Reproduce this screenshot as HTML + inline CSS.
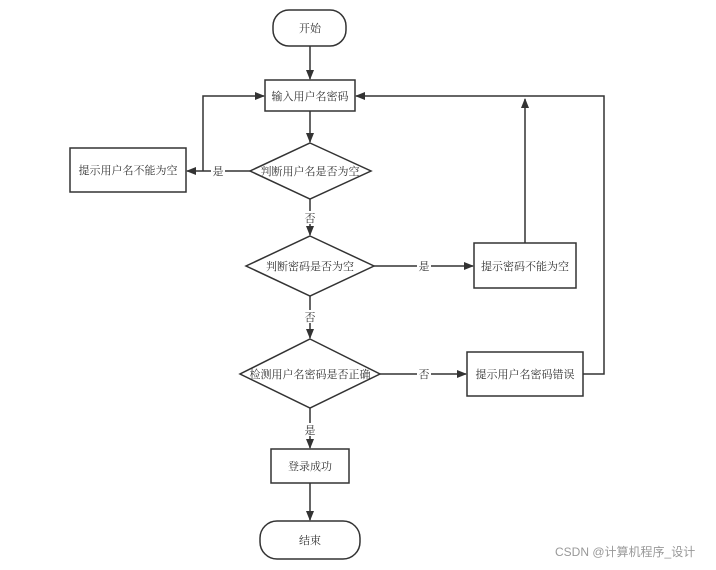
<!DOCTYPE html>
<html><head><meta charset="utf-8"><style>
body{margin:0;background:#fff;width:716px;height:565px;overflow:hidden}
text{font-family:"Liberation Serif","Noto Serif CJK SC","Noto Sans CJK SC",serif;font-size:11px;fill:#333}
</style></head><body>
<svg width="716" height="565" viewBox="0 0 716 565">
<defs><marker id="a" markerWidth="10" markerHeight="8" refX="9" refY="4" orient="auto" markerUnits="userSpaceOnUse"><path d="M0,0L10,4L0,8z" fill="#333"/></marker></defs>
<g stroke="#333" stroke-width="1.5" fill="#fff">
<rect x="273" y="10" width="73" height="36" rx="16"/>
<rect x="265" y="80" width="90" height="31"/>
<polygon points="310,143 371,171 310,199 250,171"/>
<rect x="70" y="148" width="116" height="44"/>
<polygon points="310,236 374,266 310,296 246,266"/>
<rect x="474" y="243" width="102" height="45"/>
<polygon points="310,339 380,374 310,408 240,374"/>
<rect x="467" y="352" width="116" height="44"/>
<rect x="271" y="449" width="78" height="34"/>
<rect x="260" y="521" width="100" height="38" rx="17"/>
</g>
<g stroke="#333" stroke-width="1.5" fill="none">
<line x1="310" y1="46" x2="310" y2="79" marker-end="url(#a)"/>
<line x1="310" y1="111" x2="310" y2="142" marker-end="url(#a)"/>
<line x1="250" y1="171" x2="187" y2="171" marker-end="url(#a)"/>
<polyline points="203,171 203,96 264,96" marker-end="url(#a)"/>
<line x1="310" y1="199" x2="310" y2="235" marker-end="url(#a)"/>
<line x1="374" y1="266" x2="473" y2="266" marker-end="url(#a)"/>
<line x1="525" y1="243" x2="525" y2="99" marker-end="url(#a)"/>
<polyline points="583,374 604,374 604,96 356,96" marker-end="url(#a)"/>
<line x1="310" y1="296" x2="310" y2="338" marker-end="url(#a)"/>
<line x1="380" y1="374" x2="466" y2="374" marker-end="url(#a)"/>
<line x1="310" y1="408" x2="310" y2="448" marker-end="url(#a)"/>
<line x1="310" y1="483" x2="310" y2="520" marker-end="url(#a)"/>
</g>
<g text-anchor="middle">
<text x="310" y="32">开始</text>
<text x="310" y="100">输入用户名密码</text>
<text x="310" y="175">判断用户名是否为空</text>
<text x="128" y="174">提示用户名不能为空</text>
<text x="310" y="270">判断密码是否为空</text>
<text x="525" y="270">提示密码不能为空</text>
<text x="310" y="378">检测用户名密码是否正确</text>
<text x="525" y="378">提示用户名密码错误</text>
<text x="310" y="470">登录成功</text>
<text x="310" y="544">结束</text>
</g>
<g text-anchor="middle">
<rect x="211" y="164" width="14" height="13" fill="#fff"/><text x="218" y="175">是</text>
<rect x="303" y="211" width="14" height="13" fill="#fff"/><text x="310" y="222">否</text>
<rect x="417" y="259" width="14" height="13" fill="#fff"/><text x="424" y="270">是</text>
<rect x="303" y="310" width="14" height="13" fill="#fff"/><text x="310" y="321">否</text>
<rect x="417" y="367" width="14" height="13" fill="#fff"/><text x="424" y="378">否</text>
<rect x="303" y="423" width="14" height="13" fill="#fff"/><text x="310" y="434">是</text>
</g>
<text x="555" y="556" style="font-family:'Liberation Sans','Noto Sans CJK SC',sans-serif;font-size:12px;fill:#999">CSDN @计算机程序_设计</text>
</svg>
</body></html>
